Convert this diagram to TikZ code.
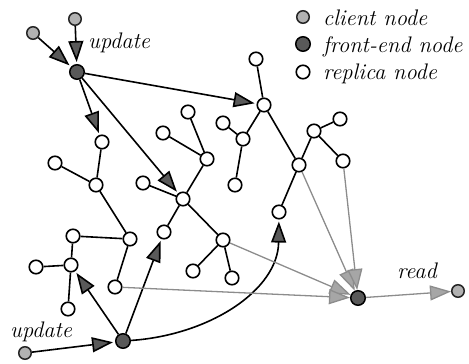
\documentclass[tikz,border=0pt]{standalone}
\usetikzlibrary{arrows.meta}
\begin{document}
\begin{tikzpicture}[x=1pt,y=-1pt,
  replica/.style={circle,draw=black,fill=white,line width=1.6pt,minimum size=13.5pt,inner sep=0pt},
  client/.style={circle,draw=black!85,fill=black!30,line width=1.5pt,minimum size=12.5pt,inner sep=0pt},
  frontend/.style={circle,draw=black,fill=black!65,line width=1.5pt,minimum size=14.5pt,inner sep=0pt},
  tree/.style={line width=1.6pt},
  upd/.style={line width=1.6pt,-{Triangle[length=21pt,width=15pt,fill=black!65]},shorten >=2pt},
  rd/.style={line width=1.3pt,draw=black!45,-{Triangle[length=21pt,width=15pt,fill=black!35]}},
  lbl/.style={font=\fontsize{22.5}{26}\selectfont\itshape,inner sep=0pt}
]
\useasboundingbox (0,0) rectangle (469,364);
% client and front-end nodes
\node[client] (C1) at (33,33) {};
\node[client] (C2) at (75,19) {};
\node[frontend] (F1) at (77,72) {};
\node[client] (C3) at (25,353) {};
\node[frontend] (F2) at (123,341) {};
\node[frontend] (F3) at (358,298) {};
\node[client] (C4) at (458,291) {};
% replica nodes
\node[replica] (R1) at (102,142) {};
\node[replica] (R2) at (55,163) {};
\node[replica] (R3) at (188,112) {};
\node[replica] (R4) at (163,133) {};
\node[replica] (R5) at (207,159) {};
\node[replica] (R6) at (223,123) {};
\node[replica] (R7) at (96,185) {};
\node[replica] (R8) at (143,183) {};
\node[replica] (R9) at (130,239) {};
\node[replica] (R10) at (73,236) {};
\node[replica] (R11) at (71,265) {};
\node[replica] (R12) at (36,267) {};
\node[replica] (R13) at (183,199) {};
\node[replica] (R14) at (164,232) {};
\node[replica] (R15) at (223,240) {};
\node[replica] (R16) at (115,287) {};
\node[replica] (R17) at (68,309) {};
\node[replica] (R18) at (193,271) {};
\node[replica] (R19) at (232,278) {};
\node[replica] (R20) at (235,185) {};
\node[replica] (R21) at (264,105) {};
\node[replica] (R22) at (243,139) {};
\node[replica] (R23) at (279,212) {};
\node[replica] (R24) at (256,59) {};
\node[replica] (R25) at (314,131) {};
\node[replica] (R26) at (340,119) {};
\node[replica] (R27) at (343,161) {};
\node[replica] (R28) at (299,165) {};
% tree edges
\draw[tree] (R24) -- (R21);
\draw[tree] (R21) -- (R22);
\draw[tree] (R22) -- (R6);
\draw[tree] (R22) -- (R20);
\draw[tree] (R21) -- (R28);
\draw[tree] (R28) -- (R25);
\draw[tree] (R25) -- (R26);
\draw[tree] (R25) -- (R27);
\draw[tree] (R28) -- (R23);
\draw[tree] (R3) -- (R5);
\draw[tree] (R4) -- (R5);
\draw[tree] (R5) -- (R13);
\draw[tree] (R8) -- (R13);
\draw[tree] (R13) -- (R14);
\draw[tree] (R13) -- (R15);
\draw[tree] (R15) -- (R18);
\draw[tree] (R15) -- (R19);
\draw[tree] (R1) -- (R7);
\draw[tree] (R2) -- (R7);
\draw[tree] (R7) -- (R9);
\draw[tree] (R9) -- (R10);
\draw[tree] (R9) -- (R16);
\draw[tree] (R10) -- (R11);
\draw[tree] (R11) -- (R12);
\draw[tree] (R11) -- (R17);
% update arrows
\draw[upd] (C1) -- (F1);
\draw[upd] (C2) -- (F1);
\draw[upd] (F1) -- (R21);
\draw[upd] (F1) -- (R1);
\draw[upd] (F1) -- (R13);
\draw[upd] (C3) -- (F2);
\draw[upd] (F2) -- (R11);
\draw[upd] (F2) -- (R14);
\draw[upd] (F2) .. controls (210,335) and (278,290) .. (R23);
% read arrows
\draw[rd] (R28) -- (F3);
\draw[rd] (R27) -- (F3);
\draw[rd] (R15) -- (F3);
\draw[rd] (R16) -- (F3);
\draw[rd] (F3) -- (C4);
% labels
\node[lbl,anchor=base west] (Lu1) at (88,48) {update};
\node[lbl,anchor=base west] (Lu2) at (10,337) {update};
\node[lbl,anchor=base west] (Lr) at (397,278) {read};
% legend
\node[client] (K1) at (303,17) {};
\node[frontend] (K2) at (303,44) {};
\node[replica] (K3) at (303,72) {};
\node[lbl,anchor=base west] (T1) at (323,25) {client node};
\node[lbl,anchor=base west] (T2) at (323,52) {front-end node};
\node[lbl,anchor=base west] (T3) at (323,79) {replica node};
\end{tikzpicture}
\end{document}
